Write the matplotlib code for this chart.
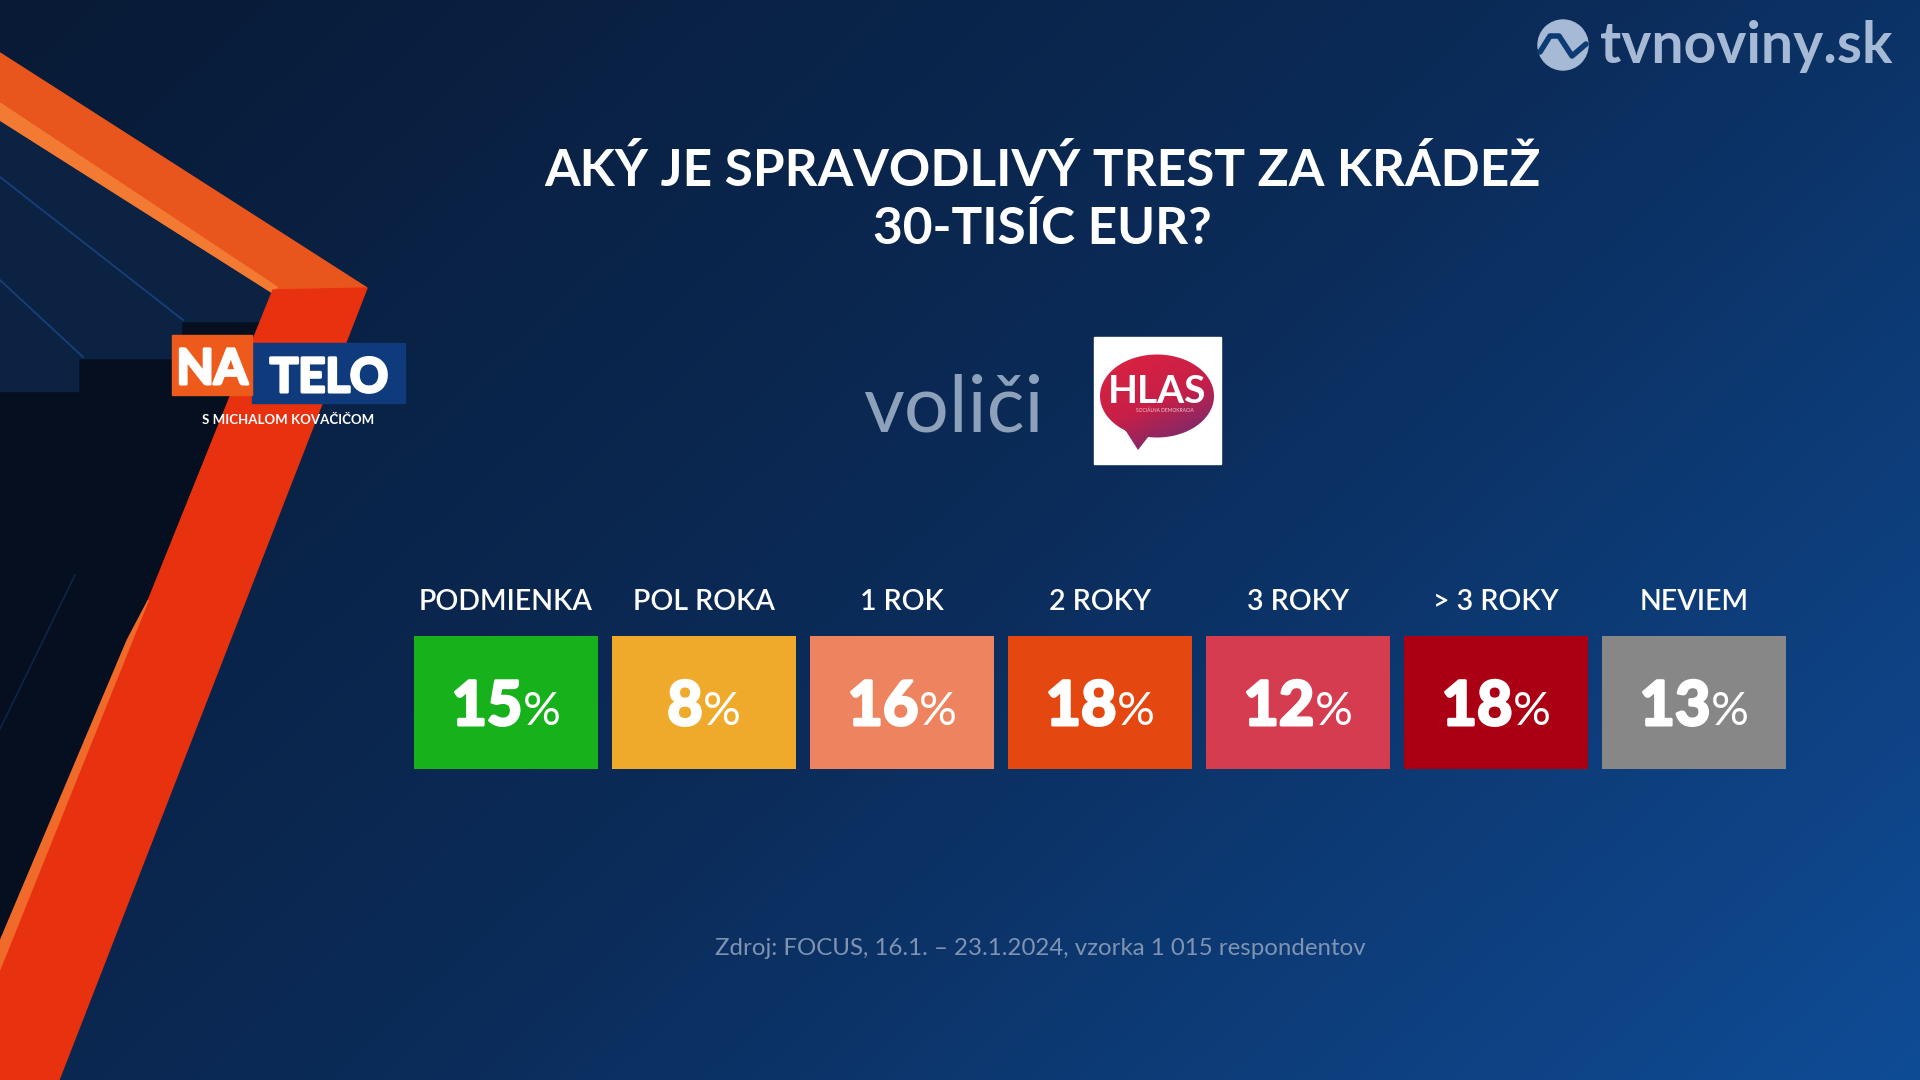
import numpy as np
import matplotlib
matplotlib.use("Agg")
import matplotlib.pyplot as plt
import matplotlib.patheffects as pe
from matplotlib.patches import Polygon, Rectangle, Circle, PathPatch
from matplotlib.path import Path
from matplotlib.colors import LinearSegmentedColormap

# --- data ---
categories = ["PODMIENKA", "POL ROKA", "1 ROK", "2 ROKY", "3 ROKY", "> 3 ROKY", "NEVIEM"]
values = [15, 8, 16, 18, 12, 18, 13]
colors = ["#17b21b", "#efaa2b", "#ee845f", "#e4470f", "#d63c4f", "#ab0014", "#878787"]

title_lines = ["AKÝ JE SPRAVODLIVÝ TREST ZA KRÁDEŽ", "30-TISÍC EUR?"]
group_label = "voliči"
party = "HLAS"
party_sub = "SOCIÁLNA DEMOKRACIA"
source = "Zdroj: FOCUS, 16.1. – 23.1.2024, vzorka 1 015 respondentov"
brand = "tvnoviny.sk"
show = ("NA", "TELO", "S MICHALOM KOVAČIČOM")

plt.rcParams["font.family"] = ["Lato", "DejaVu Sans"]

W, H = 1920, 1080
fig = plt.figure(figsize=(19.2, 10.8), dpi=100)
bg = fig.add_axes([0, 0, 1, 1])
bg.set_xlim(0, W)
bg.set_ylim(H, 0)
bg.axis("off")

# background gradient
yy, xx = np.mgrid[0:H:4, 0:W:4]
t = 0.62 * xx / W + 0.38 * yy / H
cmap = LinearSegmentedColormap.from_list("bg", ["#081a35", "#0b2b58", "#0f4c96"])
bg.imshow(t, cmap=cmap, extent=(0, W, H, 0), aspect="auto",
          interpolation="bilinear", vmin=0, vmax=1, zorder=0)

heavy = [pe.withStroke(linewidth=2.2, foreground="white")]


# left decoration
def red_left(y):
    return 273 - 0.402 * (y - 290)


def red_right(y):
    return 367 - 0.389 * (y - 288)


y_cross = 290 + 273 / 0.402
bg.add_patch(Polygon([(0, 120), (273, 293), (0, y_cross)], closed=True,
                     color="#0b2242", zorder=1))
bg.plot([0, 183], [177, 320], color="#173f7a", lw=1.3, zorder=2)
bg.plot([0, 83], [280, 357], color="#173f7a", lw=1.3, zorder=2)
bg.add_patch(Polygon([(0, 393), (80, 393), (80, 360), (183, 360), (183, 323),
                      (red_left(323), 323), (0, y_cross)], closed=True,
                     color="#050f1f", zorder=2))
bg.plot([0, 75], [729, 575], color="#0e244a", lw=1.2, zorder=2)

bg.add_patch(Polygon([(0, 53), (367, 288), (273, 293), (0, 120)], closed=True,
                     color="#e9561d", zorder=3))
bg.add_patch(Polygon([(0, 103), (277, 287), (273, 293), (0, 120)], closed=True,
                     color="#f27a32", zorder=3))
bg.add_patch(Polygon([(273, 290), (367, 288), (red_right(1080), 1080),
                      (red_left(1080), 1080)], closed=True,
                     color="#e8310f", zorder=3))
bg.add_patch(Polygon([(red_left(600), 600), (red_left(1080), 1080),
                      (red_left(1080) - 14, 1080), (red_left(640) - 5, 640)],
                     closed=True, color="#f06a2a", zorder=3))

# show logo
bg.add_patch(Rectangle((252, 343), 153, 60, color="#0f3b7c", zorder=4))
bg.add_patch(Rectangle((172, 335), 80, 60, color="#ee5a1c", zorder=5))
bg.text(212, 384, show[0], ha="center", va="baseline", fontsize=35,
        weight="bold", color="white", zorder=6, path_effects=heavy)
bg.text(329, 392, show[1], ha="center", va="baseline", fontsize=34,
        weight="bold", color="white", zorder=6, path_effects=heavy)
bg.text(288, 424, show[2], ha="center", va="baseline", fontsize=9.5,
        weight="bold", color="white", zorder=6)

# brand logo
bg.add_patch(Circle((1563, 45), 25, color="#a7bad5", zorder=4))
bg.plot([1540, 1550, 1559, 1572, 1586], [52, 36, 36, 56, 44],
        color="#0d3b74", lw=4, solid_capstyle="round", zorder=5)
bg.text(1600, 63, brand, ha="left", va="baseline", fontsize=41,
        weight="bold", color="#a7bad5", zorder=4)

# title
bg.text(1042, 186, title_lines[0], ha="center", va="baseline", fontsize=37,
        weight="bold", color="white", zorder=4)
bg.text(1042, 244, title_lines[1], ha="center", va="baseline", fontsize=37,
        weight="bold", color="white", zorder=4)

# voter group label + party logo
bg.text(953, 431, group_label, ha="center", va="baseline", fontsize=57,
        weight="normal", color="#8da1bb", zorder=4)
bg.add_patch(Rectangle((1094, 337), 127, 127, color="white", zorder=4))
th = np.linspace(0, 2 * np.pi, 120)
ell = np.column_stack([1157 + 57 * np.cos(th), 396 + 41.5 * np.sin(th)])
tail = np.array([(1124, 428), (1152, 432), (1138, 450), (1124, 428)])
bubble = Path.make_compound_path(
    Path(ell, closed=True), Path(tail, closed=True))
gy, gx = np.mgrid[0:1:60j, 0:1:60j]
bmap = LinearSegmentedColormap.from_list("hlas", ["#dc2340", "#c61f48", "#56307e"])
img = bg.imshow(0.35 * gx + 0.65 * gy, cmap=bmap, extent=(1098, 1216, 452, 354),
                aspect="auto", interpolation="bilinear", zorder=5)
clip = PathPatch(bubble, transform=bg.transData, facecolor="none", edgecolor="none")
bg.add_patch(clip)
img.set_clip_path(clip)
bg.text(1157, 403, party, ha="center", va="baseline", fontsize=28,
        weight="bold", color="white", zorder=6)
bg.text(1165, 412, party_sub, ha="center", va="baseline", fontsize=3.5,
        color="#f3c9d3", zorder=6)

# source
bg.text(1040, 955, source, ha="center", va="baseline", fontsize=17.3,
        color="#7f94b2", zorder=4)

# tiles
step, tile_w = 198, 184
tiles = fig.add_axes([407 / W, (H - 769) / H, len(categories) * step / W, 133 / H])
tiles.set_xlim(-0.5, len(categories) - 0.5)
tiles.set_ylim(0, 1)
tiles.axis("off")
x = np.arange(len(categories))
tiles.bar(x, np.ones(len(categories)), width=tile_w / step, color=colors,
          align="center")

nums, pcts = [], []
for i, (cat, v) in enumerate(zip(categories, values)):
    tiles.text(i, 1.195, cat, ha="center", va="baseline", fontsize=20.5,
               weight="semibold", color="white")
    nums.append(tiles.text(i, 0.331, str(v), ha="left", va="baseline",
                           fontsize=44, weight="bold", color="white",
                           path_effects=heavy))
    pcts.append(tiles.text(i, 0.331, "%", ha="left", va="baseline",
                           fontsize=34, weight="normal", color="white"))

fig.canvas.draw()
renderer = fig.canvas.get_renderer()
for i, (n, p) in enumerate(zip(nums, pcts)):
    wn = n.get_window_extent(renderer).width / step
    wp = p.get_window_extent(renderer).width / step
    start = i - (wn + wp) / 2
    n.set_x(start)
    p.set_x(start + wn)

fig.savefig("out.png", dpi=100)
